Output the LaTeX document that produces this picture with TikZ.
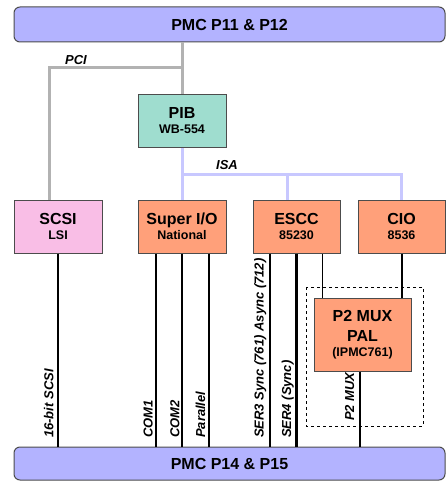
\documentclass[tikz,border=0pt]{standalone}
\usepackage{fontspec}
\setmainfont{Liberation Sans}
\usepackage{xcolor}
\usepackage{tikz}

\definecolor{pmcblue}{HTML}{B3B3FF}
\definecolor{pibteal}{HTML}{9FDDCF}
\definecolor{scsipink}{HTML}{F9BEE6}
\definecolor{chiporange}{HTML}{FFA07A}
\definecolor{isalav}{HTML}{C8C8FF}
\definecolor{pcigray}{HTML}{B2B2B2}

\newcommand{\chipsub}{\fontsize{12.5}{15}\selectfont}

\begin{document}
\begin{tikzpicture}[
      x=1pt, y=-1pt,
      bar/.style={draw=black!70, line width=1pt, fill=pmcblue, rounded corners=6pt,
                  minimum width=431pt, minimum height=35pt,
                  font=\bfseries\fontsize{16}{18}\selectfont},
      blk/.style={draw=black!70, line width=1pt, minimum width=88pt, minimum height=53pt,
                  align=center, inner sep=1pt, font=\bfseries\fontsize{16}{15}\selectfont},
      buslbl/.style={font=\bfseries\itshape\fontsize{13}{15}\selectfont, anchor=base, inner sep=0pt},
      lbl/.style={font=\bfseries\itshape\fontsize{13}{15}\selectfont, rotate=90, anchor=base west, inner sep=0pt},
      pcibus/.style={line width=3pt, pcigray},
      isabus/.style={line width=3pt, isalav},
      sig/.style={line width=1.6pt},
      sigw/.style={line width=2.8pt}
    ]
    \useasboundingbox (0,0) rectangle (446,481);

    % Connettori PMC
    \node[bar] (p11) at (229.5,24.5) {PMC P11 \& P12};
    \node[bar, minimum height=33pt] (p14) at (229.5,463.5) {PMC P14 \& P15};

    % Blocchi
    \node[blk, fill=pibteal] (pib) at (182,121) {PIB\\\chipsub WB-554};
    \node[blk, fill=scsipink] (scsi) at (58,226.5) {SCSI\\\chipsub LSI};
    \node[blk, fill=chiporange] (sio) at (182,226.5) {Super I/O\\\chipsub National};
    \node[blk, fill=chiporange, minimum width=87pt] (escc) at (296.5,226.5) {ESCC\\\chipsub 85230};
    \node[blk, fill=chiporange, minimum width=87pt] (cio) at (401.5,226.5) {CIO\\\chipsub 8536};
    \node[blk, fill=chiporange, minimum width=97pt, minimum height=73pt] (p2mux) at (362.5,334.5)
      {P2 MUX\\[5pt]PAL\\\chipsub (IPMC761)};

    % Bus PCI
    \coordinate (pcij) at (182,68);
    \draw[pcibus] (pib.north) -- (pib.north |- p11.south);
    \draw[pcibus] ([xshift=-9pt]scsi.north) |- (pcij);
    \node[buslbl] (pcilbl) at (76,65) {PCI};

    % Bus ISA
    \coordinate (isaj) at (182,174);
    \draw[isabus] (pib.south) -- (sio.north);
    \draw[isabus] (isaj) -| (cio.north);
    \draw[isabus] ([xshift=-9pt]escc.north |- isaj) -- ([xshift=-9pt]escc.north);
    \node[buslbl] (isalbl) at (227,169) {ISA};

    % Segnali verso P14/P15
    \draw[sig] (scsi.south) -- (scsi.south |- p14.north);
    \draw[sig] ([xshift=-26pt]sio.south) -- ([xshift=-26pt]sio.south |- p14.north);
    \draw[sig, line width=2pt] (sio.south) -- (sio.south |- p14.north);
    \draw[sig] ([xshift=27pt]sio.south) -- ([xshift=27pt]sio.south |- p14.north);
    \draw[sig, line width=2pt] ([xshift=-26.5pt]escc.south) -- ([xshift=-26.5pt]escc.south |- p14.north);
    \draw[sigw] (escc.south) -- (escc.south |- p14.north);
    \draw[sig] ([xshift=26pt]escc.south) -- ([xshift=26pt]escc.south |- p2mux.north);
    \draw[sig, line width=2pt] (cio.south) -- (cio.south |- p2mux.north);
    \draw[sigw] ([xshift=-2.5pt]p2mux.south) -- ([xshift=-2.5pt]p2mux.south |- p14.north);

    % Riquadro tratteggiato
    \draw[dashed, line width=0.8pt] (306,287) rectangle (423,426);

    % Etichette dei segnali
    \node[lbl] (l16) at (53.3,438) {16-bit SCSI};
    \node[lbl] (lcom1) at (152.7,438) {COM1};
    \node[lbl] (lcom2) at (179.3,438) {COM2};
    \node[lbl] (lpar) at (205,438) {Parallel};
    \node[lbl] (lser3) at (263.5,438) {SER3 Sync (761) Async (712)};
    \node[lbl] (lser4) at (291,438) {SER4 (Sync)};
    \node[lbl] (lmux) at (354,421) {P2 MUX};
  \end{tikzpicture}
\end{document}
